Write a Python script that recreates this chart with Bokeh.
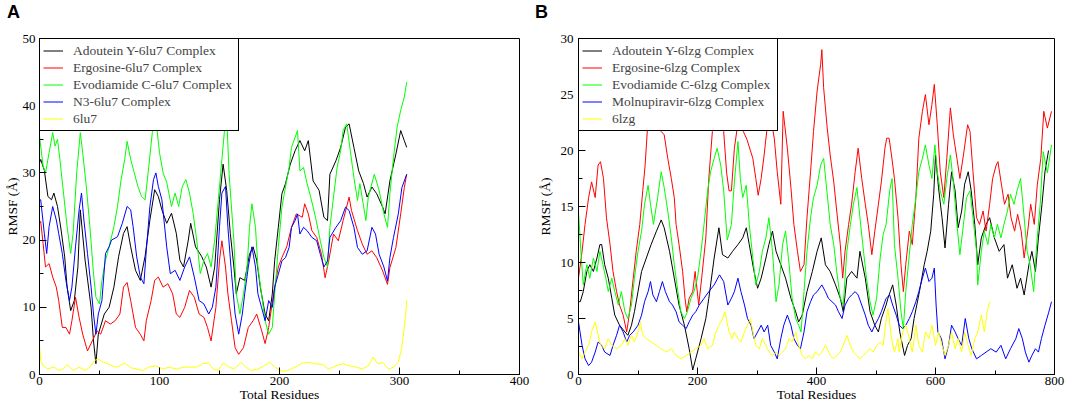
from bokeh.plotting import figure
from bokeh.models import Range1d, SingleIntervalTicker, Legend, LegendItem, Div
from bokeh.layouts import row, column
from bokeh.embed import file_html
from bokeh.resources import INLINE

# ---------------- Panel A data (residue, RMSF) ----------------
A_NAMES = ["Adoutein Y-6lu7 Complex", "Ergosine-6lu7 Complex", "Evodiamide C-6lu7 Complex",
           "N3-6lu7 Complex", "6lu7"]

A_ADOUTEIN = [(0,31.5),(1,32),(4,30.4),(7,26.5),(10,26),(12,27),(15,25),(18,21.5),(21,17.5),(23,13),(26,9.5),
 (29,11),(32,16),(34,24.5),(38,17),(43,10),(45,5),(47,1.6),(49,6),(54,9),(58,10),(62,13),(66,17.6),(70,21),
 (73,22),(76,19),(80,15.5),(84,14),(88,17.6),(92,23),(96,27.5),(99,26.5),(102,24.5),(106,22.5),(110,24),
 (114,21),(117,17),(120,16),(124,20),(126,22.5),(130,19),(135,17.6),(139,16),(143,13),(146,16),(150,26),
 (153,31.3),(156,27.4),(159,21),(162,16),(164,12),(167,14.4),(171,14),(175,17.9),(178,19),(181,17),(184,13),
 (188,9),(191,8),(194,12),(196,17),(199,21.9),(202,26.9),(205,28.4),(209,31.3),(213,33.3),(217,34.8),
 (221,33.3),(224,34.8),(228,28.8),(233,27.4),(237,23.4),(240,22.9),(242,29.8),(247,31.8),(251,33.8),
 (255,36.8),(258,37.3),(262,33.8),(266,30.3),(270,28.4),(273,26.4),(277,27.9),(281,26.9),(286,24.9),
 (288,23.9),(292,28.8),(297,32.8),(301,36.3),(304,34.8),(306,33.8)]

A_ERGOSINE = [(0,22.5),(1,22.8),(3,19.5),(5,16),(8,16.5),(11,14.5),(14,13),(16,11),(19,7),(22,7),(25,6),(27,8),
 (30,11.5),(33,8.5),(36,6),(40,3.5),(44,5),(48,6.5),(51,6),(55,8),(59,7.5),(63,8),(67,9),(70,13),(73,13.7),
 (76,11),(80,7),(84,6),(87,5),(89,8),(93,11),(96,14),(99,14.5),(103,13),(107,13.5),(111,12),(114,9),(117,8.5),
 (121,10),(125,12.5),(129,11.5),(133,9),(137,8.5),(140,7),(143,5),(147,10),(150,17),(152,19.9),(155,16),
 (157,12),(160,8),(163,4),(166,3),(170,4),(174,7),(178,8),(181,9),(185,6.6),(188,4.6),(191,7),(195,12),
 (199,16),(202,17.4),(206,19),(210,21.9),(214,23.9),(219,23.4),(221,25.4),(224,23.9),(227,21.4),(231,20.4),
 (235,17.9),(238,14.4),(241,16.9),(245,20.9),(249,19.9),(253,22.9),(258,26.4),(260,24.4),(265,21.4),
 (269,19.4),(273,17.9),(277,18.4),(281,17.4),(286,15.4),(290,13.4),(292,15.9),(297,18.9),(301,23.9),
 (304,27.8),(306,29.8)]

A_EVODIAMIDE = [(0,35.5),(3,31),(5,30),(8,33),(11,36),(13,34),(15,35),(17,32),(20,27),(23,22),(26,18),(28,21),
 (31,30),(34,36),(36,33),(39,28),(42,22),(45,15),(47,11.5),(50,10.5),(52,14),(55,17),(58,19),(62,22),(65,25),
 (68,29),(71,32),(73,34.7),(76,32),(79,30),(82,28),(85,26.5),(88,26),(91,30.8),(94,36),(97,38),(100,33),
 (103,30),(106,28.6),(110,25),(113,27),(116,25),(119,28),(122,29),(125,27),(128,24),(131,20),(134,15),
 (137,17),(140,18),(143,16),(146,20),(149,26),(152,32),(154,36),(156,38.5),(158,29.8),(162,19.9),(164,12),
 (167,9),(170,12),(173,16),(175,21.9),(177,25.4),(180,21.9),(182,16),(185,12),(188,8),(191,6),(194,7),
 (196,12),(199,18.9),(202,24.9),(205,27.9),(208,30.8),(210,33.8),(213,35.3),(215,36.3),(217,30.3),
 (220,30.8),(223,28.4),(226,26.4),(230,23.4),(234,19.9),(237,17.4),(240,16),(242,21.9),(245,26.4),
 (248,30.8),(251,33.3),(253,36.3),(256,37.3),(259,33.3),(262,29.3),(265,25.9),(267,28.4),(272,22.9),
 (274,26.4),(279,29.8),(283,27.4),(287,23.9),(290,21.9),(292,26.9),(295,32.3),(298,36.8),(301,39.3),
 (304,41.3),(306,43.5)]

A_N3 = [(0,26),(1,26),(4,21),(6,18),(8,22),(11,25),(14,23),(16,21),(19,18),(22,14),(25,11),(27,13),(30,19),
 (33,24.5),(35,27),(37,23),(40,18),(43,13),(45,9),(47,6),(49,9),(52,11),(55,18),(58,19),(60,20),(65,20.5),
 (69,22.5),(73,25),(76,24.5),(78,22),(81,17.5),(84,14.5),(87,13.5),(89,18.5),(92,25),(95,29),(97,30),(99,28),
 (102,26),(106,19),(109,15),(113,15.5),(117,14),(121,16),(125,17.5),(129,14.5),(133,11),(137,10.5),(141,9),
 (144,10),(147,13),(150,22),(152,27),(155,28),(157,21.9),(160,15),(163,9),(166,6),(169,9),(171,12),(174,16),
 (177,19),(180,16),(182,12),(185,10),(188,8),(191,11),(194,10),(196,13),(199,14.9),(202,16.9),(205,17.4),
 (208,18.9),(210,21.9),(213,22.9),(215,23.9),(217,20.9),(220,21.9),(223,21.4),(227,20.4),(231,19.9),
 (234,17.9),(237,16),(240,16.9),(242,20.4),(247,21.9),(251,22.9),(255,24.9),(258,24.4),(262,21.9),
 (265,18.9),(269,17.9),(273,18.4),(277,21.9),(280,20.9),(283,17.9),(287,16),(290,13.9),(292,17.4),
 (295,20.4),(299,23.9),(302,27.8),(306,29.8)]

A_APO = [(0,4.6),(1,2.1),(3,1.3),(7,0.85),(12,1.1),(16,0.6),(20,0.85),(23,1.5),(28,0.6),(33,1.1),(38,0.6),
 (42,1.1),(46,2.1),(49,2.3),(53,1.8),(57,1.6),(63,1.1),(67,1.3),(71,1.7),(76,1.0),(81,0.8),(86,0.6),(91,1.1),
 (97,1.3),(103,0.8),(108,1.1),(114,0.8),(120,1.1),(125,1.1),(131,1.1),(136,1.6),(141,1.7),(145,0.8),
 (149,0.6),(153,1.7),(158,1.1),(162,0.8),(168,1.8),(172,1.1),(176,0.6),(182,0.8),(187,1.3),(192,1.8),
 (196,1.1),(202,0.5),(207,0.6),(213,1.1),(219,1.7),(224,1.8),(230,1.6),(236,1.5),(241,0.8),(247,1.3),
 (253,1.6),(258,1.3),(264,1.1),(269,0.8),(274,1.3),(278,2.6),(282,1.6),(286,1.8),(291,0.8),(295,1.1),
 (299,1.8),(302,4.1),(305,8.6),(306,11)]

# ---------------- Panel B data (residue, RMSF) ----------------
B_NAMES = ["Adoutein Y-6lzg Complex", "Ergosine-6lzg Complex", "Evodiamide C-6lzg Complex",
           "Molnupiravir-6lzg Complex", "6lzg"]

B_ADOUTEIN = [(0,6.5),(3,6.5),(8,7.4),(14,9.2),(19,9.8),(25,9.2),(31,10.4),(36,11.6),(39,11.6),(44,9.8),(50,8.6),
 (56,6.8),(61,5.3),(69,4.4),(78,3.8),(83,3.5),(89,4.4),(94,5.6),(100,7.4),(106,9.2),(114,10.4),(122,11.6),
 (131,12.8),(139,13.8),(144,13.1),(153,11),(161,8.6),(169,6.2),(178,4.4),(186,2.3),(192,0.4),(197,1.4),
 (206,3.2),(214,5),(219,6.8),(228,10.4),(236,13.1),(242,10.7),(251,10.4),(259,11),(268,11.6),(276,12.2),
 (282,13.1),(287,11.6),(295,9.2),(301,7.7),(307,8.6),(315,10.4),(320,11.6),(326,12.8),(332,11),(340,9.8),
 (348,8.6),(357,6.8),(365,5.6),(370,4.7),(376,5.3),(384,7.4),(393,9.2),(401,11),(408,12.2),(415,9.8),
 (423,9.2),(432,8),(440,6.8),(445,5.6),(451,8.6),(459,9.2),(468,8.6),(473,11),(482,8.6),(490,5.6),(498,4.4),
 (504,3.8),(509,5),(517,6.2),(520,6.8),(528,8),(534,6.2),(540,3.8),(548,1.7),(553,2.6),(559,3.2),(564,5),
 (573,7.4),(581,9.8),(586,11),(592,12.8),(597,16.1),(600,19.6),(605,16.7),(611,14),(616,11.3),(622,15.2),
 (627,18.1),(633,16.4),(638,13.1),(644,14.6),(649,17),(655,18.1),(660,16.4),(666,13.4),(671,9.8),(677,12.2),
 (685,13.4),(691,14),(699,12.2),(707,11),(715,11.6),(721,8.6),(729,9.8),(737,7.7),(743,8.6),(749,7.1),
 (757,9.8),(762,11),(768,9.2),(773,12.2),(779,15.2),(784,18.1),(790,20)]

B_ERGOSINE = [(0,8.6),(6,11),(11,13.4),(17,15.8),(22,17.2),(28,15.8),(33,18.7),(37,19),(42,17.5),(47,14),
 (53,11.6),(58,9.2),(64,7.4),(69,6.2),(75,5.3),(81,3.8),(86,5.6),(92,8.6),(97,11),(103,13.4),(108,16.4),
 (112,18.7),(117,22.9),(121,24.1),(126,25.5),(131,24),(136,22.5),(139,21.7),(144,21.4),(150,19.3),
 (156,17.5),(161,15.8),(164,13.4),(169,11.6),(175,9.2),(179,6.8),(182,5.6),(186,6.8),(192,7.4),(196,9.2),
 (202,6.2),(207,8.6),(214,12.2),(219,17.5),(225,21.7),(231,23.5),(238,24),(244,21.7),(249,18),(253,16.4),
 (257,16.4),(262,20.2),(268,22.5),(274,23),(277,21.7),(283,21),(293,19.3),(298,17.5),(302,16),(307,17.5),
 (312,19.6),(318,22.5),(323,23),(329,21.1),(334,18.1),(340,15.2),(344,23.5),(351,20.2),(357,16.7),
 (362,13.4),(368,11),(373,9.2),(379,9.8),(384,14),(390,18.1),(395,21.7),(401,25.3),(407,27.7),(409,29),
 (412,25.6),(418,22),(423,19.6),(429,17.2),(434,14.6),(440,11.6),(444,8.6),(448,11),(454,13.4),(459,15.2),
 (465,18.1),(470,20.2),(476,17.5),(482,15.2),(487,13.4),(493,10.7),(498,12.8),(504,15.2),(509,17.2),
 (515,20.2),(518,21.1),(522,21.1),(526,19.6),(531,17.5),(537,14),(542,9.8),(546,7.4),(550,9.8),(556,12.8),
 (561,11.6),(567,15.8),(572,21.1),(578,23.5),(583,25),(589,22.3),(594,24.1),(598,25.9),(603,22.3),
 (608,18.1),(614,15.8),(619,19.3),(625,23.8),(630,21.4),(636,19.3),(641,17.5),(647,19.6),(654,22.3),
 (658,21.7),(663,18.1),(669,14),(674,13.4),(680,14.6),(685,12.8),(691,15.2),(696,17.5),(702,18.7),(705,19),
 (711,16.9),(716,15.2),(722,16.1),(727,14),(733,12.8),(738,14.3),(744,12.8),(749,10.4),(755,12.8),
 (760,15.2),(766,13.4),(771,16.9),(777,19.3),(782,23.5),(788,22),(795,23.5)]

B_EVODIAMIDE = [(0,14.5),(4,11),(8,8),(14,9.8),(19,8.6),(25,10.4),(31,9.2),(36,11),(41,9.8),(46,8.6),(50,7.4),
 (56,8.6),(61,7.4),(67,6.2),(72,7.4),(78,5.6),(83,5),(89,6.2),(94,8.6),(100,11),(106,12.8),(111,15.2),
 (117,16.9),(121,15.2),(126,13.4),(133,15.8),(139,18.1),(144,16.7),(150,14.6),(156,12.2),(161,9.8),
 (167,7.4),(172,5.6),(178,5),(183,5.6),(189,6.8),(194,7.4),(200,8.6),(206,11),(211,13.4),(217,16.4),
 (222,18.1),(228,19.3),(233,20.2),(239,18.7),(244,16.4),(250,12),(257,13.4),(262,17.2),(268,20.8),
 (272,17.5),(276,15.8),(282,16.9),(287,13.4),(293,10.4),(298,8),(304,9.2),(309,11),(315,12.2),(320,14),
 (326,11),(332,6.5),(337,8),(343,11.6),(348,12.8),(354,9.8),(359,6.8),(365,5),(370,4.4),(374,3.8),(379,7.4),
 (384,11),(390,14),(395,15.8),(401,16.9),(407,18.7),(412,19.3),(418,16.1),(423,13.4),(429,11.6),(434,9.2),
 (440,6.8),(445,6.2),(451,11),(457,13.4),(462,15.2),(468,16.7),(473,14),(479,11),(484,8.6),(490,6.5),
 (495,5.3),(501,6.8),(507,10.4),(512,12.5),(517,13.4),(523,16.4),(527,17.5),(531,11.6),(537,8.6),(542,5.6),
 (546,4.1),(550,7.4),(556,10.7),(561,13.4),(567,15.8),(572,18.1),(578,19.3),(583,20.5),(589,18.7),
 (594,17.5),(599,20.5),(603,18.1),(608,16.4),(614,15.2),(619,17.5),(625,19.6),(630,17.2),(636,13.4),
 (641,10.7),(647,13.4),(652,15.8),(658,16.4),(663,14),(669,11),(671,8),(677,11),(682,12.8),(688,11.6),
 (693,13.4),(699,12.2),(704,13.4),(710,12.2),(715,13.4),(721,14.6),(726,16.1),(732,15.2),(737,16.4),
 (743,17.5),(748,14.6),(754,11),(759,9.8),(765,7.4),(770,11.6),(776,15.2),(781,19.9),(788,18),(795,20.5)]

B_MOLNUPIRAVIR = [(0,4.7),(6,2.6),(11,1.4),(17,0.8),(22,1.1),(28,2),(33,2.9),(39,2.6),(44,2),(53,1.7),(58,2.6),
 (64,3.5),(69,4.4),(75,3.8),(81,2.9),(86,3.5),(92,3.8),(100,4.4),(106,5.3),(111,6.5),(117,7.4),(121,8.3),
 (125,7.1),(131,6.5),(136,7.4),(141,8.3),(146,7.4),(153,6.5),(158,6.2),(164,5.6),(169,4.7),(175,4.4),
 (181,4.1),(186,4.7),(192,5.3),(197,5.6),(203,6.2),(211,6.8),(219,7.4),(228,8),(237,8.9),(244,8.3),
 (251,6.2),(257,6.8),(262,7.4),(268,8.6),(273,7.4),(279,6.2),(284,5),(290,4.4),(295,3.2),(301,3.8),
 (307,4.4),(312,3.8),(318,4.4),(323,2.6),(329,2),(334,1.4),(340,3.2),(345,4.4),(351,5.3),(357,4.4),
 (362,3.2),(368,2.6),(373,2.3),(379,3.8),(384,5.6),(390,6.5),(395,7.1),(401,7.4),(409,8),(415,7.4),
 (420,6.8),(426,6.5),(432,6.2),(437,5.6),(443,5),(448,6.2),(454,6.8),(459,7.1),(465,7.4),(470,7.1),
 (476,6.2),(482,5.3),(487,4.4),(493,3.8),(498,4.4),(504,5),(509,5.6),(517,6.8),(523,7.1),(528,6.2),
 (534,5.3),(539,4.4),(545,4.1),(550,4.4),(556,5),(561,5.6),(567,6.5),(572,7.4),(578,8.6),(583,9.5),
 (589,8.3),(594,8.6),(598,9.5),(601,6.2),(604,3.8),(610,3.2),(616,1.4),(622,2.6),(627,4.4),(633,3.8),
 (638,3.2),(644,2.6),(650,5),(656,3.2),(661,2.3),(669,1.4),(677,1.7),(685,2),(693,2.3),(702,2),(710,2.6),
 (718,1.4),(726,2.3),(735,3.2),(740,4.1),(746,3.2),(751,2),(757,1.1),(762,1.7),(768,2.3),(773,2),
 (778,3.2),(784,4.4),(790,5.5),(795,6.5)]

B_APO = [(0,2),(6,1.4),(11,2),(17,2.6),(22,3.8),(28,4.7),(32,3.8),(37,2.6),(44,2.3),(50,3.2),(56,2.6),(64,2.3),
 (72,2.6),(78,3.2),(83,2.6),(89,3.5),(94,2.9),(100,3.8),(104,4.7),(108,3.5),(114,3.2),(122,2.9),(131,2.6),
 (139,2.3),(147,2),(156,2.3),(164,1.7),(172,1.4),(181,1.7),(189,2),(197,2.3),(206,2.6),(211,3.2),(217,2.3),
 (225,2.6),(231,3.8),(236,4.4),(242,5),(246,5.6),(253,3.8),(258,3.2),(262,3.8),(268,3.2),(273,2.9),
 (279,3.8),(284,4.4),(289,5),(293,3.8),(298,2.6),(304,2.3),(309,3.2),(315,2.6),(320,2),(326,1.7),(332,2),
 (337,1.7),(343,2),(348,2.3),(354,3.2),(359,2.9),(365,3.8),(370,2.6),(376,1.7),(382,1.4),(387,1.7),
 (393,1.4),(398,2),(404,1.7),(409,2),(415,2.6),(418,2.3),(423,1.7),(429,1.4),(434,1.7),(440,2),(445,2.6),
 (451,3.5),(457,2.6),(462,2),(468,1.7),(473,1.4),(479,1.7),(484,2),(490,2.3),(495,2),(501,2.6),(507,2.9),
 (512,2.6),(516,4.4),(520,5.9),(526,3.2),(531,2),(537,3.2),(539,2),(545,3.8),(550,4.4),(556,3.2),(561,2),
 (567,4.4),(572,2.6),(578,2),(583,3.8),(589,3.2),(594,4.4),(600,2.6),(605,3.8),(611,2.6),(616,1.7),
 (622,2.6),(627,3.8),(633,2.3),(638,3.2),(644,2),(649,3.8),(655,2.6),(660,1.7),(666,3.2),(671,3.8),
 (677,5.3),(682,3.8),(687,5.6),(691,6.5)]

COLORS = ["#000000", "#ff0000", "#00ff00", "#0000ff", "#ffff00"]

# ---------------- layout ----------------
HD = 22          # height of the strip holding the panel letters
HF = 382         # figure height
TOP = 16
BOTTOM = 30
FW = 480
SERIF = "Liberation Serif"


def panel(series, names, xmax, ymax, xint, yint, left, right, tick_standoff, label_standoff):
    p = figure(width=left + FW + right, height=HF,
               x_range=Range1d(0, xmax), y_range=Range1d(0, ymax),
               output_backend="svg", toolbar_location=None,
               min_border_left=left, min_border_right=right,
               min_border_top=TOP, min_border_bottom=BOTTOM)
    p.xgrid.visible = False
    p.ygrid.visible = False
    p.outline_line_color = "black"
    p.outline_line_alpha = 1.0
    p.outline_line_width = 1
    p.background_fill_color = "white"
    p.border_fill_color = "white"

    p.xaxis.ticker = SingleIntervalTicker(interval=xint, num_minor_ticks=2)
    p.yaxis.ticker = SingleIntervalTicker(interval=yint, num_minor_ticks=2)
    for ax in (p.xaxis, p.yaxis):
        ax.major_tick_in = 7
        ax.major_tick_out = 0
        ax.minor_tick_in = 4
        ax.minor_tick_out = 0
        ax.axis_line_color = "black"
        ax.major_tick_line_color = "black"
        ax.minor_tick_line_color = "black"
        ax.major_label_text_font = SERIF
        ax.major_label_text_font_size = "13px"
        ax.major_label_text_color = "black"
        ax.axis_label_text_font = SERIF
        ax.axis_label_text_font_size = "13.5px"
        ax.axis_label_text_font_style = "normal"
        ax.axis_label_text_color = "black"
    p.xaxis.axis_label = "Total Residues"
    p.yaxis.axis_label = "RMSF (Å)"
    p.xaxis.major_label_standoff = 2
    p.xaxis.axis_label_standoff = -1
    p.yaxis.major_label_standoff = tick_standoff
    p.yaxis.axis_label_standoff = label_standoff

    rends = []
    for s, c in zip(series, COLORS):
        xs = [q[0] for q in s]
        ys = [q[1] for q in s]
        rends.append(p.line(xs, ys, line_color=c, line_width=1))

    leg = Legend(items=[LegendItem(label=n, renderers=[r]) for n, r in zip(names, rends)],
                 location="top_left", margin=0, padding=3, spacing=0,
                 glyph_height=17, glyph_width=20, label_height=17, label_width=162,
                 label_standoff=10, label_text_font=SERIF, label_text_font_size="13.5px",
                 border_line_color="black", border_line_width=1, border_line_alpha=1.0,
                 background_fill_color="white", background_fill_alpha=1.0)
    p.add_layout(leg)
    return p


def letter(tag, width, dx):
    html = ('<div style="position:relative; top:3px; left:%dpx; font-family:\'Liberation Sans\', Arial, sans-serif; '
            'font-weight:bold; font-size:18px; line-height:18px; color:#000;">%s</div>' % (dx, tag))
    return Div(text=html, width=width, height=HD, margin=(0, 0, 0, 0))


WA = 39 + FW + 15
WB = 40 + FW + 11

pa = panel([A_ADOUTEIN, A_ERGOSINE, A_EVODIAMIDE, A_N3, A_APO], A_NAMES,
           400, 50, 100, 10, 39, 15, 4, 0)
pb = panel([B_ADOUTEIN, B_ERGOSINE, B_EVODIAMIDE, B_MOLNUPIRAVIR, B_APO], B_NAMES,
           800, 30, 200, 5, 40, 11, 5, 5)

layout = column(row(letter("A", WA, 7), letter("B", WB, 1)), row(pa, pb))
open("out.html", "w").write(file_html(layout, INLINE))
